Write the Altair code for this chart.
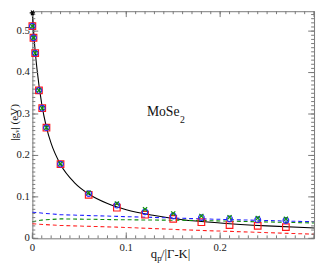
import altair as alt
import pandas as pd

# ---------------- data ----------------
pt_x = [0.0, 0.0012, 0.003, 0.007, 0.0105, 0.015, 0.03, 0.06, 0.09, 0.12, 0.15, 0.18, 0.21, 0.24, 0.27]
sq_red = [0.512, 0.484, 0.447, 0.357, 0.314, 0.267, 0.179, 0.105, 0.074, 0.057, 0.047, 0.039, 0.032, 0.030, 0.027]
ci_blue = [0.512, 0.484, 0.447, 0.357, 0.314, 0.267, 0.179, 0.108, 0.080, 0.064, 0.054, 0.050, 0.047, 0.045, 0.043]
x_green = [0.512, 0.484, 0.447, 0.357, 0.314, 0.267, 0.180, 0.110, 0.084, 0.070, 0.060, 0.054, 0.051, 0.049, 0.047]

curve_x = [0, 0.002, 0.005, 0.01, 0.015, 0.02, 0.03, 0.045, 0.06, 0.08, 0.1, 0.13, 0.16, 0.2, 0.25, 0.3]
curve_y = [0.544, 0.478, 0.407, 0.324, 0.268, 0.229, 0.178, 0.134, 0.107, 0.084, 0.069, 0.055, 0.045, 0.037, 0.030, 0.025]

star_x = [0.0]
star_y = [0.544]

dash_blue_x = [0, 0.03, 0.09, 0.18, 0.3]
dash_blue_y = [0.063, 0.057, 0.053, 0.047, 0.040]
dash_green_x = [0, 0.01, 0.03, 0.09, 0.18, 0.3]
dash_green_y = [0.040, 0.044, 0.047, 0.045, 0.043, 0.037]
dash_red_x = [0, 0.03, 0.09, 0.18, 0.3]
dash_red_y = [0.035, 0.031, 0.027, 0.019, 0.010]

x_label_vals = [0, 0.1, 0.2]
x_label_text = ["0", "0.1", "0.2"]
y_label_vals = [0, 0.1, 0.2, 0.3, 0.4, 0.5]
y_label_text = ["0", "0.1", "0.2", "0.3", "0.4", "0.5"]
x_minor = [round(i * 0.01, 2) for i in range(31)]
x_major = [0, 0.1, 0.2, 0.3]
y_minor = [round(i * 0.01, 2) for i in range(55)]
y_major = [0, 0.1, 0.2, 0.3, 0.4, 0.5]

# ---------------- layout ----------------
W, H = 289, 233
FONT = "Liberation Serif"
FRAME = "#777777"

xs = alt.Scale(domain=[0, 0.3], nice=False, zero=False)
ys = alt.Scale(domain=[0, 0.548], nice=False, zero=False)


def X(field="x"):
    return alt.X(f"{field}:Q", scale=xs, axis=None)


def Y(field="y"):
    return alt.Y(f"{field}:Q", scale=ys, axis=None)


df_curve = pd.DataFrame({"x": curve_x, "y": curve_y})
curve = alt.Chart(df_curve).mark_line(color="black", strokeWidth=1.1, interpolate="monotone").encode(
    x=X(), y=Y())


def dashed(xv, yv, color):
    return alt.Chart(pd.DataFrame({"x": xv, "y": yv})).mark_line(
        color=color, strokeWidth=1.1, strokeDash=[4, 3]).encode(x=X(), y=Y())


d_blue = dashed(dash_blue_x, dash_blue_y, "#1f1fff")
d_green = dashed(dash_green_x, dash_green_y, "#0a8a0a")
d_red = dashed(dash_red_x, dash_red_y, "#ff2020")

squares = alt.Chart(pd.DataFrame({"x": pt_x, "y": sq_red})).mark_point(
    shape="square", size=46, filled=False, color="#ff1a1a", strokeWidth=1.2, opacity=1).encode(x=X(), y=Y())
circles = alt.Chart(pd.DataFrame({"x": pt_x, "y": ci_blue})).mark_point(
    shape="circle", size=34, filled=False, color="#2a2aff", strokeWidth=1.2, opacity=1).encode(x=X(), y=Y())
xmarks = alt.Chart(pd.DataFrame({"x": pt_x, "y": x_green})).mark_point(
    shape="M-1,-1L1,1M-1,1L1,-1", size=18, filled=False, color="#0f8f0f", strokeWidth=1.3, opacity=1).encode(x=X(), y=Y())
star = alt.Chart(pd.DataFrame({"x": star_x, "y": star_y})).mark_point(
    shape="M-1,0L1,0M-0.5,-0.87L0.5,0.87M-0.5,0.87L0.5,-0.87", size=30, filled=False,
    color="black", strokeWidth=1.2, opacity=1).encode(x=X(), y=Y())


# ---------------- inward ticks on all four sides ----------------
def xticks(vals, length):
    d = pd.DataFrame({"x": vals})
    bottom = alt.Chart(d).mark_rule(color=FRAME, strokeWidth=1).encode(
        x=X(), y=alt.value(H), y2=alt.value(H - length))
    top = alt.Chart(d).mark_rule(color=FRAME, strokeWidth=1).encode(
        x=X(), y=alt.value(0), y2=alt.value(length))
    return [bottom, top]


def yticks(vals, length):
    d = pd.DataFrame({"y": vals})
    left = alt.Chart(d).mark_rule(color=FRAME, strokeWidth=1).encode(
        y=Y(), x=alt.value(0), x2=alt.value(length))
    right = alt.Chart(d).mark_rule(color=FRAME, strokeWidth=1).encode(
        y=Y(), x=alt.value(W), x2=alt.value(W - length))
    return [left, right]


ticks = xticks(x_minor, 3) + xticks(x_major, 6) + yticks(y_minor, 3) + yticks(y_major, 6)

# ---------------- tick labels ----------------
xlab = alt.Chart(pd.DataFrame({"x": x_label_vals, "t": x_label_text})).mark_text(
    font=FONT, fontSize=11, color="#222", align="center", baseline="top").encode(
    x=X(), y=alt.value(H + 4), text="t:N")
ylab = alt.Chart(pd.DataFrame({"y": y_label_vals, "t": y_label_text})).mark_text(
    font=FONT, fontSize=11, color="#222", align="right", baseline="middle").encode(
    y=Y(), x=alt.value(-2.5), text="t:N")


# ---------------- texts ----------------
def label(txt, px, py, size, align="left", angle=0, baseline="alphabetic"):
    return alt.Chart(pd.DataFrame({"t": [txt]})).mark_text(
        font=FONT, fontSize=size, color="#111", align=align, baseline=baseline, angle=angle).encode(
        x=alt.value(px), y=alt.value(py), text="t:N")


texts = [
    label("MoSe", 117.5, 107.5, 14),
    label("2", 151.5, 115, 10),
    label("q", 121.5, 253, 13),
    label("p", 128, 256, 9),
    label("/|Γ-K|", 132, 253, 13),
    label("|gᵥ| (eV)", -15, 114, 11.5, align="center", angle=270),
]

chart = alt.layer(
    curve, d_blue, d_green, d_red, *ticks, squares, circles, xmarks, star, xlab, ylab, *texts
).properties(
    width=W, height=H,
    autosize=alt.AutoSizeParams(type="none"),
    padding={"left": 25, "top": 0, "right": 2, "bottom": 22},
).configure_view(stroke=FRAME, strokeWidth=1)

chart.save("out.html", embed_options={"renderer": "svg", "actions": False})
